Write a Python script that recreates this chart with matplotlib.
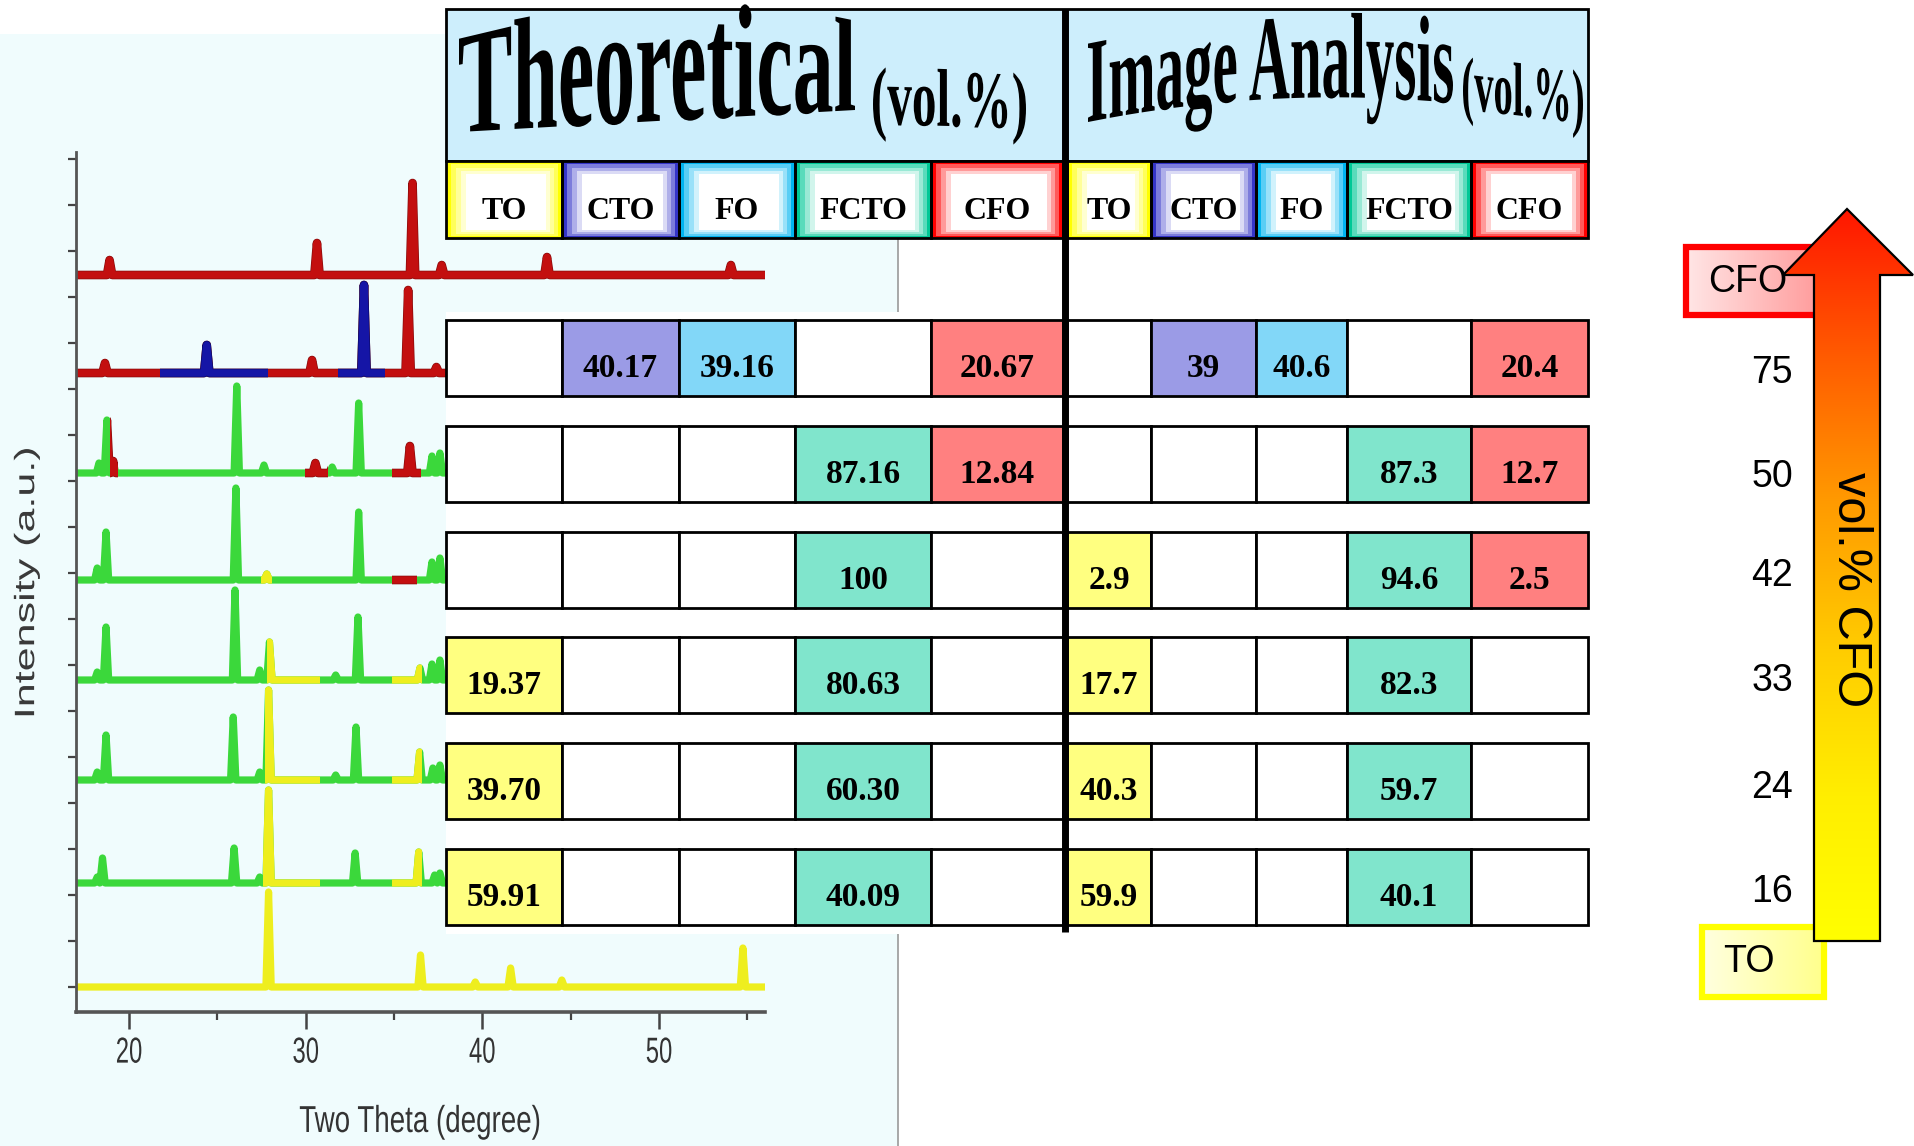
#!/usr/bin/env python3
"""
Phase fractions of the TO / CTO / FO / FCTO / CFO composites: XRD patterns
on the left, theoretical vs image-analysis vol.% table in the middle and the
CFO content arrow on the right.  Writes out.png (1915 x 1146 px).
"""

import numpy as np
import matplotlib
matplotlib.use("Agg")
import matplotlib.pyplot as plt
from matplotlib.patches import Rectangle, Polygon
from matplotlib.path import Path
from matplotlib.patheffects import AbstractPathEffect, Stroke, Normal
from matplotlib.transforms import IdentityTransform
from matplotlib.colors import LinearSegmentedColormap, to_rgb

W, H = 1915, 1146

# ── data ─────────────────────────────────────────────────────────────────────

PHASES = ["TO", "CTO", "FO", "FCTO", "CFO"]

THEORETICAL = [
    ["",      "40.17", "39.16", "",      "20.67"],
    ["",      "",      "",      "87.16", "12.84"],
    ["",      "",      "",      "100",   ""],
    ["19.37", "",      "",      "80.63", ""],
    ["39.70", "",      "",      "60.30", ""],
    ["59.91", "",      "",      "40.09", ""],
]

IMAGE_ANALYSIS = [
    ["",     "39", "40.6", "",     "20.4"],
    ["",     "",   "",     "87.3", "12.7"],
    ["2.9",  "",   "",     "94.6", "2.5"],
    ["17.7", "",   "",     "82.3", ""],
    ["40.3", "",   "",     "59.7", ""],
    ["59.9", "",   "",     "40.1", ""],
]

CFO_LEVELS = ["75", "50", "42", "33", "24", "16"]

# XRD patterns, top to bottom: baseline offset (a.u.), last 2theta drawn,
# base colour, peaks as (2theta, height) and recoloured 2theta ranges.
XRD_OFFSETS = [737, 639, 539, 432, 332, 232, 129, 25]
XRD_END     = [56.0, 37.95, 37.95, 37.95, 37.95, 37.95, 37.95, 56.0]
XRD_BASE    = ["red", "red", "green", "green", "green", "green", "green", "yellow"]
XRD_PEAKS = [
    [(18.9, 15), (30.64, 32), (36.05, 92), (37.7, 10), (43.66, 18), (54.07, 10)],
    [(18.64, 10), (24.4, 28), (30.36, 13), (33.3, 88), (35.8, 83), (37.4, 6)],
    [(18.3, 10), (18.75, 53), (19.1, 12), (26.1, 87), (27.64, 8), (30.55, 10),
     (31.5, 6), (33.0, 70), (35.9, 27), (37.15, 17), (37.6, 20)],
    [(18.2, 12), (18.7, 48), (26.05, 92), (27.8, 6), (33.0, 68), (37.15, 18),
     (37.6, 22)],
    [(18.2, 8), (18.7, 53), (26.0, 90), (27.4, 10), (27.95, 38), (31.7, 5),
     (32.96, 63), (36.47, 12), (37.15, 16), (37.6, 20)],
    [(18.2, 8), (18.7, 45), (25.9, 63), (27.4, 8), (27.9, 90), (31.7, 5),
     (32.85, 53), (36.45, 28), (37.2, 12), (37.6, 15)],
    [(18.2, 6), (18.5, 25), (25.95, 35), (27.4, 6), (27.9, 93), (32.8, 30),
     (36.4, 31), (37.3, 8), (37.6, 10)],
    [(27.9, 95), (36.5, 32), (39.6, 5), (41.6, 19), (44.5, 7), (54.75, 39)],
]
XRD_SEGMENTS = [
    [],
    [(21.75, 27.87, "blue"), (31.83, 34.5, "blue")],
    [(18.95, 19.4, "red"), (29.96, 31.26, "red"), (34.9, 36.5, "red")],
    [(27.5, 28.1, "yellow"), (34.9, 36.3, "red")],
    [(27.8, 30.8, "yellow"), (34.9, 36.6, "yellow")],
    [(27.7, 30.8, "yellow"), (34.9, 36.6, "yellow")],
    [(27.6, 30.8, "yellow"), (34.9, 36.6, "yellow")],
    [],
]

# ── style ────────────────────────────────────────────────────────────────────

PHASE_EDGE = ["#ffff00", "#3535c8", "#00b4f0", "#00c896", "#ff0000"]
PHASE_FILL = ["#ffff80", "#9b9be6", "#82d7f8", "#80e5cc", "#ff8080"]
TRACE_COLOR = {"red": "#c30f0f", "blue": "#1515a6",
               "green": "#3bd83b", "yellow": "#eeee1e"}
TRACE_EDGE = {"red": "#8a0b0b", "blue": "#0b0b6e"}

THEO_X = [446, 562, 679, 795, 931, 1063]
IA_X   = [1067, 1151, 1256, 1347, 1471, 1588]
ROW_TOP = [320, 426, 532, 637, 743, 849]
ROW_H = 76
LEVEL_Y = [373, 477, 576, 681, 788, 892]

SERIF = "Liberation Serif"
SANS = "Liberation Sans"


# ── text effects ─────────────────────────────────────────────────────────────

def quad(p, t):
    """Quadratic through p[0] at t=0, p[1] at t=0.5, p[2] at t=1."""
    p0, pm, p1 = p
    return p0 * (1 - t) * (1 - 2 * t) + pm * 4 * t * (1 - t) + p1 * t * (2 * t - 1)


def _extent(path, col):
    v = path.vertices[:, col]
    if path.codes is not None:
        v = v[path.codes != Path.CLOSEPOLY]
    return v.min(), v.max()


class Arch(AbstractPathEffect):
    """WordArt-like bend: glyphs spread over x0..x1 (figure px, y down),
    baseline and cap line follow quadratics across the word."""

    def __init__(self, x0, x1, base, top, cap=0.66):
        super().__init__()
        self.x0, self.x1, self.base, self.top, self.cap = x0, x1, base, top, cap

    def draw_path(self, renderer, gc, tpath, affine, rgbFace=None):
        if len(tpath.vertices) == 0:
            return
        v = tpath.vertices
        lo, hi = _extent(tpath, 0)
        t = np.clip((v[:, 0] - lo) / (hi - lo), 0, 1)
        b = quad(self.base, t)
        em = (b - quad(self.top, t)) / self.cap
        X = self.x0 + t * (self.x1 - self.x0)
        Y = b - v[:, 1] / 100.0 * em          # text paths use 100 units/em
        sx, sy = renderer.width / W, renderer.height / H
        dev = np.column_stack([X * sx, (H - Y) * sy])
        renderer.draw_path(gc, Path(dev, tpath.codes), IdentityTransform(), rgbFace)


class Squeeze(AbstractPathEffect):
    """Compress text horizontally about its centre (the scanned XRD panel
    is squashed sideways)."""

    def __init__(self, sx):
        super().__init__()
        self.sx = sx

    def draw_path(self, renderer, gc, tpath, affine, rgbFace=None):
        if len(tpath.vertices) == 0:
            return
        v = affine.transform(tpath.vertices)
        keep = v[:, 0] if tpath.codes is None else v[tpath.codes != Path.CLOSEPOLY, 0]
        cx = 0.5 * (keep.min() + keep.max())
        v[:, 0] = cx + (v[:, 0] - cx) * self.sx
        renderer.draw_path(gc, Path(v, tpath.codes), IdentityTransform(), rgbFace)


# ── helpers ──────────────────────────────────────────────────────────────────

def mix(c, f):
    r = np.array(to_rgb(c))
    return tuple(r + (1 - r) * f)


def gradient(ax, x0, y0, x1, y1, colors, horizontal=True, clip=None, z=3):
    cmap = LinearSegmentedColormap.from_list("g", colors)
    g = np.linspace(0, 1, 256)
    img = g[None, :] if horizontal else g[:, None]
    im = ax.imshow(img, cmap=cmap, extent=(x0, x1, y1, y0), origin="upper",
                   aspect="auto", interpolation="bilinear", zorder=z)
    if clip is not None:
        im.set_clip_path(clip)
    return im


def framed_cell(ax, x0, x1, y0, y1, color, label):
    L, R, T, B = 20, 16, 13, 8
    fades = [0.0, 0.35, 0.6, 0.82, 1.0]
    for k, f in enumerate(fades):
        s = k / (len(fades) - 1)
        ax.add_patch(Rectangle((x0 + L * s, y0 + T * s),
                               (x1 - x0) - (L + R) * s, (y1 - y0) - (T + B) * s,
                               fc=mix(color, f), ec="none", zorder=3))
    ax.add_patch(Rectangle((x0, y0), x1 - x0, y1 - y0, fc="none", ec="black",
                           lw=2, zorder=4))
    ax.text((x0 + x1) / 2, y0 + 58, label, ha="center", va="baseline",
            fontsize=23, family=SERIF, weight="bold", zorder=6)


def trace_xy(peaks, offset, x_end, x_start=17.0, hw=0.15):
    xs, ys = [x_start], [offset]
    for i, (c, h) in enumerate(peaks):
        left, right = c - hw, c + hw
        if i > 0:
            left = max(left, 0.5 * (peaks[i - 1][0] + c))
        if i < len(peaks) - 1:
            right = min(right, 0.5 * (c + peaks[i + 1][0]))
        xs += [left, c, right]
        ys += [offset, offset + h, offset]
    xs.append(x_end)
    ys.append(offset)
    return np.array(xs), np.array(ys)


def draw_trace(ax, xs, ys, cname, clip=None):
    pe = None
    if cname in TRACE_EDGE:
        pe = [Stroke(linewidth=6.2, foreground=TRACE_EDGE[cname]), Normal()]
    line, = ax.plot(xs, ys, color=TRACE_COLOR[cname], lw=5.2,
                    solid_joinstyle="round", solid_capstyle="butt",
                    path_effects=pe)
    if clip is not None:
        s, e = clip
        line.set_clip_path(Rectangle((s, -100), e - s, 1200,
                                     transform=ax.transData))


# ── figure ───────────────────────────────────────────────────────────────────

fig = plt.figure(figsize=(W / 100, H / 100), dpi=100)
fig.patch.set_facecolor("white")

# background of the XRD panel
bg = fig.add_axes([0, 0, 1, 1], zorder=0)
bg.set_xlim(0, W)
bg.set_ylim(H, 0)
bg.axis("off")
bg.add_patch(Rectangle((0, 34), 898, H - 34, fc="#f0fcfd", ec="none"))
bg.plot([898, 898], [34, H], color="#9a9a9a", lw=1.2)

# XRD patterns
ax = fig.add_axes([76 / W, (H - 1012) / H, (765 - 76) / W, 860 / H], zorder=1)
ax.set_facecolor("none")
ax.set_xlim(17.0, 56.0)
ax.set_ylim(0, 860)

for i in range(len(XRD_OFFSETS)):
    xs, ys = trace_xy(XRD_PEAKS[i], XRD_OFFSETS[i], XRD_END[i])
    draw_trace(ax, xs, ys, XRD_BASE[i])
    for s, e, cname in XRD_SEGMENTS[i]:
        draw_trace(ax, xs, ys, cname, clip=(s, e))

for side in ("top", "right"):
    ax.spines[side].set_visible(False)
ax.spines["left"].set_color("#555555")
ax.spines["left"].set_linewidth(2)
ax.spines["bottom"].set_color("#555555")
ax.spines["bottom"].set_linewidth(2.6)

ax.set_xticks([20, 30, 40, 50])
ax.set_xticks([25, 35, 45, 55], minor=True)
ax.set_yticks(np.arange(25, 860, 46))
ax.tick_params(axis="x", which="major", length=12, width=1.8, color="#444444",
               labelsize=26, labelcolor="#333333", pad=5)
ax.tick_params(axis="x", which="minor", length=6, width=1.6, color="#444444")
ax.tick_params(axis="y", length=6, width=1.6, color="#444444", labelleft=False)
for lbl in ax.get_xticklabels():
    lbl.set_family(SANS)
    lbl.set_path_effects([Squeeze(0.66)])

ax.set_xlabel("Two Theta (degree)", fontsize=27, family=SANS, color="#333333",
              va="center", path_effects=[Squeeze(0.74)])
ax.xaxis.set_label_coords(0.5, -(1122 - 1012) / 860)
ax.set_ylabel("Intensity (a.u.)", fontsize=31, family=SANS, color="#3a3a3a",
              va="center", path_effects=[Squeeze(0.65)])
ax.yaxis.set_label_coords((27 - 76) / 689, (1012 - 583) / 860)

# table, titles and arrow
top = fig.add_axes([0, 0, 1, 1], zorder=2)
top.set_facecolor("none")
top.axis("off")

# white backing behind the data rows
top.add_patch(Rectangle((446, 312), 1067 - 446, 934 - 312, fc="white",
                        ec="none", zorder=1))

# header band
top.add_patch(Rectangle((446, 9), 1588 - 446, 161 - 9, fc="#cdeefc",
                        ec="black", lw=2, zorder=2))

top.text(657, 85, "Theoretical", fontsize=58, family=SERIF, weight="bold",
         ha="center", va="center", zorder=6,
         path_effects=[Arch(459, 855, (132, 121, 110), (38, 8, 25))])
top.text(950, 100, "(vol.%)", fontsize=34, family=SERIF, weight="bold",
         ha="center", va="center", zorder=6,
         path_effects=[Arch(873, 1026, (124, 126, 128), (70, 72, 76))])
top.text(1270, 75, "Image Analysis", fontsize=40, family=SERIF, weight="bold",
         ha="center", va="center", zorder=6,
         path_effects=[Arch(1088, 1453, (122, 99, 103), (43, 19, 22))])
top.text(1523, 95, "(vol.%)", fontsize=27, family=SERIF, weight="bold",
         ha="center", va="center", zorder=6,
         path_effects=[Arch(1463, 1583, (109, 116, 123), (59, 66, 73))])

# phase header row
for edges in (THEO_X, IA_X):
    for c, name in enumerate(PHASES):
        framed_cell(top, edges[c], edges[c + 1], 161, 238, PHASE_EDGE[c], name)

# data rows
for r, y0 in enumerate(ROW_TOP):
    for edges, table in ((THEO_X, THEORETICAL), (IA_X, IMAGE_ANALYSIS)):
        for c in range(len(PHASES)):
            val = table[r][c]
            fc = PHASE_FILL[c] if val else "white"
            top.add_patch(Rectangle((edges[c], y0), edges[c + 1] - edges[c], ROW_H,
                                    fc=fc, ec="black", lw=2, zorder=3))
            if val:
                top.text((edges[c] + edges[c + 1]) / 2, y0 + 57, val,
                         ha="center", va="baseline", fontsize=24, family=SERIF,
                         weight="bold", zorder=6)

# divider between the two tables
top.plot([1065, 1065], [9, 932], color="black", lw=5, solid_capstyle="butt",
         zorder=5)

# CFO content scale
gradient(top, 1686, 247, 1830, 315, ["#ffe6e6", "#ff9696"], z=3)
top.add_patch(Rectangle((1686, 247), 1830 - 1686, 315 - 247, fc="none",
                        ec="#ff0000", lw=4.5, zorder=4))
top.text(1748, 282, "CFO", fontsize=27, family=SANS, ha="center",
         va="center", zorder=4.5)

gradient(top, 1702, 927, 1824, 997, ["#ffffe0", "#ffff8c"], z=3)
top.add_patch(Rectangle((1702, 927), 1824 - 1702, 997 - 927, fc="none",
                        ec="#ffff00", lw=4.5, zorder=4))
top.text(1749, 962, "TO", fontsize=27, family=SANS, ha="center",
         va="center", zorder=4.5)

arrow_xy = [(1814, 941), (1814, 275), (1783, 275), (1847, 209), (1913, 275),
            (1880, 275), (1880, 941)]
arrow = Polygon(arrow_xy, closed=True, fc="none", ec="black", lw=1.6, zorder=6)
top.add_patch(arrow)
gradient(top, 1780, 205, 1915, 945,
         ["#ff1500", "#ff5a00", "#ff9a00", "#ffcc00", "#ffee00", "#ffff00"],
         horizontal=False, clip=arrow, z=5)
top.text(1851, 590, "vol.% CFO", fontsize=35, family=SANS, rotation=-90,
         ha="center", va="center", zorder=7)

for label, y in zip(CFO_LEVELS, LEVEL_Y):
    top.text(1793, y, label, fontsize=27, family=SANS, ha="right",
             va="center", zorder=6)

top.set_xlim(0, W)
top.set_ylim(H, 0)

fig.savefig("out.png", dpi=100)
plt.close(fig)
